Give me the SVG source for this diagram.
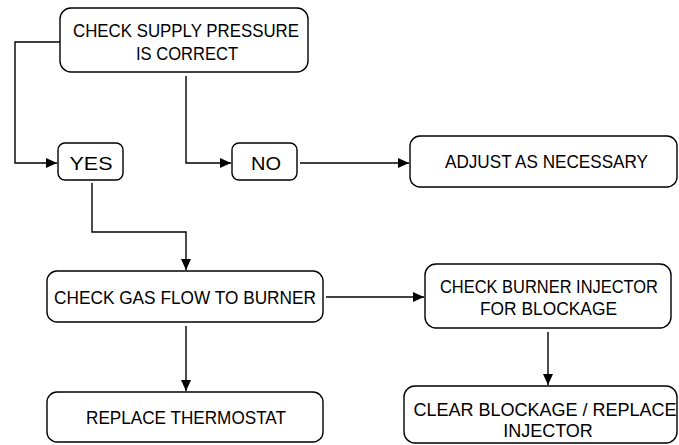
<svg xmlns="http://www.w3.org/2000/svg" width="679" height="445" viewBox="0 0 679 445">
<style>
.box{fill:#fff;stroke:#000;stroke-width:1.4}
.t{font-family:"Liberation Sans",Arial,sans-serif;font-size:18px;fill:#000;text-anchor:middle}
.c{fill:none;stroke:#000;stroke-width:1.4}
</style>
<defs>
<marker id="ah" markerUnits="userSpaceOnUse" markerWidth="12" markerHeight="10" refX="11" refY="5" orient="auto">
<path d="M0,0 L11,5 L0,10 Z" fill="#000"/>
</marker>
</defs>
<rect width="679" height="445" fill="#fff"/>
<g id="connectors">
<path class="c" d="M60,42 H15 V163 H57" marker-end="url(#ah)"/>
<path class="c" d="M186,76 V163 H231" marker-end="url(#ah)"/>
<path class="c" d="M300,163 H409" marker-end="url(#ah)"/>
<path class="c" d="M92,183 V232 H186 V270" marker-end="url(#ah)"/>
<path class="c" d="M186,326 V391" marker-end="url(#ah)"/>
<path class="c" d="M326,297 H424" marker-end="url(#ah)"/>
<path class="c" d="M548,332 V385" marker-end="url(#ah)"/>
</g>
<g id="n1">
<rect class="box" x="60" y="8" width="248" height="64" rx="11"/>
<text class="t" x="186" y="37" font-size="19" textLength="226" lengthAdjust="spacingAndGlyphs">CHECK SUPPLY PRESSURE</text>
<text class="t" x="187" y="60" font-size="19" textLength="102" lengthAdjust="spacingAndGlyphs">IS CORRECT</text>
</g>
<g id="n2">
<rect class="box" x="58" y="143" width="65" height="37" rx="7"/>
<text class="t" x="91" y="170" font-size="20" textLength="43" lengthAdjust="spacingAndGlyphs">YES</text>
</g>
<g id="n3">
<rect class="box" x="232" y="143" width="65" height="37" rx="7"/>
<text class="t" x="266" y="170" font-size="19" textLength="30" lengthAdjust="spacingAndGlyphs">NO</text>
</g>
<g id="n4">
<rect class="box" x="410" y="136" width="267" height="51" rx="10"/>
<text class="t" x="546.5" y="168" font-size="17" textLength="203" lengthAdjust="spacingAndGlyphs">ADJUST AS NECESSARY</text>
</g>
<g id="n5">
<rect class="box" x="47" y="271" width="276" height="51" rx="10"/>
<text class="t" x="185" y="304" font-size="19" textLength="262" lengthAdjust="spacingAndGlyphs">CHECK GAS FLOW TO BURNER</text>
</g>
<g id="n6">
<rect class="box" x="47" y="392" width="276" height="50" rx="10"/>
<text class="t" x="186" y="424" textLength="200" lengthAdjust="spacingAndGlyphs">REPLACE THERMOSTAT</text>
</g>
<g id="n7">
<rect class="box" x="425" y="264" width="246" height="64" rx="11"/>
<text class="t" x="549" y="293" textLength="218" lengthAdjust="spacingAndGlyphs">CHECK BURNER INJECTOR</text>
<text class="t" x="548.5" y="315" textLength="137" lengthAdjust="spacingAndGlyphs">FOR BLOCKAGE</text>
</g>
<g id="n8">
<rect class="box" x="404" y="386" width="273" height="57" rx="11"/>
<text class="t" x="545" y="416" font-size="16">CLEAR BLOCKAGE / REPLACE</text>
<text class="t" x="548" y="437" font-size="16">INJECTOR</text>
</g>
</svg>
